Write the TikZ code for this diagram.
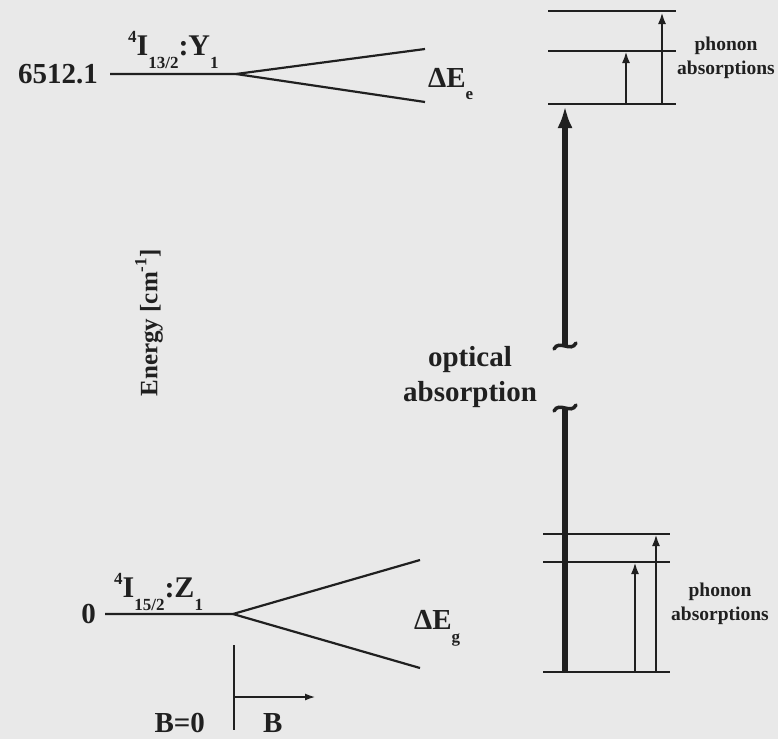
\documentclass[tikz,border=0pt]{standalone}
\usepackage{fontspec}
\setmainfont{Liberation Serif}
\usepackage{xcolor}
\definecolor{paper}{RGB}{233, 233, 233}
\definecolor{ink}{RGB}{32, 32, 32}
\usepackage{tikz}
\usetikzlibrary{positioning, arrows.meta}
\newcommand{\lvsup}[2][13pt]{\raisebox{#1}{\fontsize{17}{17}\selectfont #2}}
\newcommand{\lvsub}[2][-13pt]{\raisebox{#1}{\fontsize{17}{17}\selectfont #2}}

\begin{document}
\begin{tikzpicture}[x=1pt, y=-1pt, color=ink, line width=2.2pt,
    big/.style={font=\fontsize{29}{35}\selectfont\bfseries, inner sep=0pt},
    lvl/.style={font=\fontsize{30}{30}\selectfont\bfseries, inner sep=0pt},
    phon/.style={font=\fontsize{19.5}{24}\selectfont\bfseries, inner sep=0pt, align=center},
    thin/.style={line width=2.8pt, -{Latex[length=12pt, width=8pt]}},
    wavy/.style={line width=3.5pt, line cap=round}]
  \fill[paper] (0,0) rectangle (778,739);
  \useasboundingbox (0,0) rectangle (778,739);

  % left: splitting in the field
  \coordinate (yL) at (110,74);
  \coordinate (yS) at (236,74);
  \coordinate (yU) at (425,49);
  \coordinate (yD) at (425,102);
  \coordinate (zL) at (105,614);
  \coordinate (zS) at (233,614);
  \coordinate (zU) at (420,560);
  \coordinate (zD) at (420,668);
  \draw (yL) -- (yS) -- (yU);
  \draw (yS) -- (yD);
  \draw (zL) -- (zS) -- (zU);
  \draw (zS) -- (zD);

  \node[big, left=11pt of yL] (eY) {6512.1};
  \node[big, left=8pt of zL] (eZ) {0};
  \node[lvl, anchor=base west] (lY) at (127,55)
       {\lvsup{4}I\lvsub{13/2}:Y\lvsub{1}};
  \node[lvl, anchor=base west] (lZ) at (113,597)
       {\lvsup{4}I\lvsub{15/2}:Z\lvsub{1}};
  \node[big, anchor=base west] (dE) at (427,87) {ΔE\lvsub[-12pt]{e}};
  \node[big, anchor=base west] (dG) at (413,629) {ΔE\lvsub[-13pt]{g}};
  \node[big, font=\fontsize{25}{25}\selectfont\bfseries, rotate=90] (en) at (149,323)
       {Energy [cm\lvsup[11pt]{-1}]};

  % field axis
  \coordinate (axT) at (234,645);
  \coordinate (axB) at (234,730);
  \coordinate (axO) at (234,697);
  \coordinate (axE) at (316,697);
  \draw (axT) -- (axB);
  \draw[-{Latex[length=11pt, width=7pt]}] (axO) -- (axE);
  \node[big, anchor=base east] (b0) at (206,732) {B=0};
  \node[big, anchor=base west] (bB) at (262,732) {B};

  % right: excited levels
  \foreach \n/\y in {e0/104, e1/51, e2/11} {
    \coordinate (\n) at (548,\y);
    \draw (\n) -- ++(128,0);
  }
  % right: ground levels
  \foreach \n/\y in {g0/672, g1/562, g2/534} {
    \coordinate (\n) at (543,\y);
    \draw (\n) -- ++(127,0);
  }

  \coordinate (pa) at (626,104);
  \coordinate (pb) at (626,51);
  \coordinate (pc) at (662,104);
  \coordinate (pd) at (662,12);
  \draw[thin] (pa) -- (pb);
  \draw[thin] (pc) -- (pd);
  \coordinate (qa) at (635,672);
  \coordinate (qb) at (635,562);
  \coordinate (qc) at (656,672);
  \coordinate (qd) at (656,534);
  \draw[thin] (qa) -- (qb);
  \draw[thin] (qc) -- (qd);

  % optical transition with a break
  \coordinate (brU) at (565,346);
  \coordinate (brL) at (565,408);
  \coordinate (opT) at (565,106);
  \coordinate (opB) at (565,672);
  \draw[line width=6pt, -{Latex[length=22pt, width=15pt]}] (brU) -- (opT);
  \draw[line width=6pt] (opB) -- (brL);
  \draw[wavy] (brU) ++(-11,3) .. controls +(5,-10) and +(-5,10) .. ++(22,-6);
  \draw[wavy] (brL) ++(-11,3) .. controls +(5,-10) and +(-5,10) .. ++(22,-6);

  \node[big, align=center] (opt) at (470,377) {optical\\absorption};
  \node[phon] (phE) at (726,58) {phonon\\absorptions};
  \node[phon] (phG) at (720,604) {phonon\\absorptions};
\end{tikzpicture}
\end{document}
